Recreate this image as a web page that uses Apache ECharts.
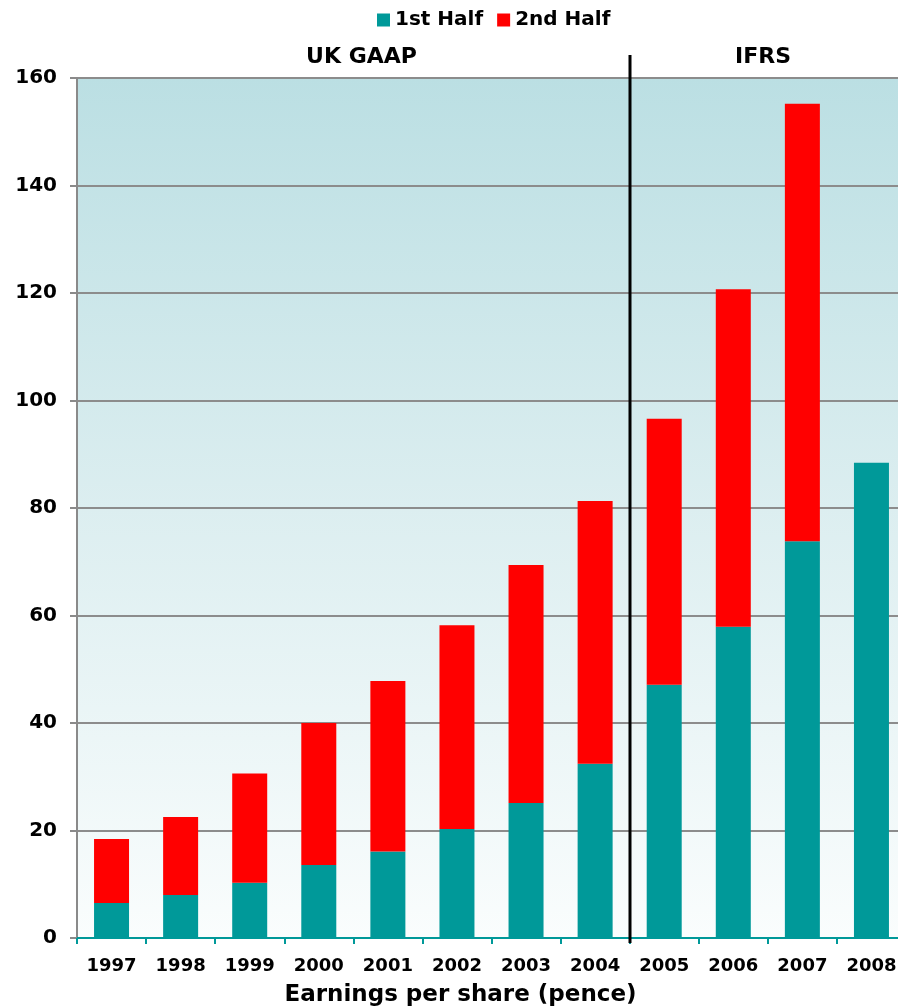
<!DOCTYPE html>
<html>
<head>
<meta charset="utf-8">
<title>Earnings per share</title>
<script src="https://cdn.jsdelivr.net/npm/echarts@6/dist/echarts.min.js"></script>
<style>
  html, body { margin: 0; padding: 0; background: #ffffff; }
  #chart { width: 898px; height: 1007px; }
</style>
</head>
<body>
<div id="chart"></div>
<script>
// Earnings per share (pence), split by half-year
const years = ['1997', '1998', '1999', '2000', '2001', '2002', '2003', '2004', '2005', '2006', '2007', '2008'];
const firstHalf  = [6.5, 8.0, 10.3, 13.6, 16.1, 20.3, 25.1, 32.4, 47.1, 57.9, 73.8, 88.4];
const secondHalf = [11.9, 14.5, 20.3, 26.4, 31.7, 37.9, 44.3, 48.9, 49.5, 62.8, 81.4, null];
const yTicks = { min: 0, max: 160, interval: 20 };
const legendNames = ['1st Half', '2nd Half'];
const regimeLabels = ['UK GAAP', 'IFRS'];

const FONT = '"DejaVu Sans", Verdana, sans-serif';
const TEAL = '#009999';
const RED = '#ff0000';

const chart = echarts.init(document.getElementById('chart'), null, { renderer: 'canvas' });

chart.setOption({
  animation: false,
  backgroundColor: '#ffffff',
  legend: {
    data: legendNames,
    left: 372,
    top: 5,
    icon: 'rect',
    itemWidth: 13,
    itemHeight: 13,
    itemGap: 14,
    textStyle: { fontFamily: FONT, fontWeight: 'bold', fontSize: 20, color: '#000' }
  },
  grid: {
    show: true,
    left: 77,
    right: -8,
    top: 78,
    bottom: 69,
    borderWidth: 0,
    outerBoundsMode: 'none',
    backgroundColor: new echarts.graphic.LinearGradient(0, 0, 0, 1, [
      { offset: 0, color: '#bbdfe3' },
      { offset: 0.5, color: '#dceef0' },
      { offset: 1, color: '#fafdfd' }
    ])
  },
  xAxis: {
    type: 'category',
    data: years,
    axisLine: { lineStyle: { color: TEAL, width: 2 } },
    axisTick: { show: true, length: 6, lineStyle: { color: TEAL, width: 2 } },
    axisLabel: { fontFamily: FONT, fontWeight: 'bold', fontSize: 18, color: '#000', margin: 19, interval: 0 },
    name: 'Earnings per share (pence)',
    nameLocation: 'middle',
    nameGap: 46,
    nameTextStyle: { fontFamily: FONT, fontWeight: 'bold', fontSize: 23, color: '#000', padding: [0, 62, 0, 0] },
    splitLine: { show: false }
  },
  yAxis: {
    type: 'value',
    min: yTicks.min,
    max: yTicks.max,
    interval: yTicks.interval,
    axisLine: { show: true, lineStyle: { color: '#8a8a8a', width: 2 } },
    axisTick: { show: true, length: 7, lineStyle: { color: '#8a8a8a', width: 2 } },
    axisLabel: { fontFamily: FONT, fontWeight: 'bold', fontSize: 20, color: '#000', margin: 20 },
    splitLine: { show: true, lineStyle: { color: '#8c8c8c', width: 2 } }
  },
  series: [
    {
      name: legendNames[0],
      type: 'bar',
      stack: 'eps',
      barWidth: 35,
      itemStyle: { color: TEAL },
      data: firstHalf
    },
    {
      name: legendNames[1],
      type: 'bar',
      stack: 'eps',
      barWidth: 35,
      itemStyle: { color: RED },
      data: secondHalf
    }
  ]
});

// Divider between the UK GAAP and IFRS years, plus the regime headings
function drawRegimes() {
  const x2004 = chart.convertToPixel({ xAxisIndex: 0 }, '2004');
  const x2005 = chart.convertToPixel({ xAxisIndex: 0 }, '2005');
  const xDiv = Math.round((x2004 + x2005) / 2);
  const yTop = chart.convertToPixel({ yAxisIndex: 0 }, yTicks.max);
  const yBase = chart.convertToPixel({ yAxisIndex: 0 }, yTicks.min);
  const xFirst = chart.convertToPixel({ xAxisIndex: 0 }, years[0]);
  const xLast = chart.convertToPixel({ xAxisIndex: 0 }, years[years.length - 1]);
  const step = x2005 - x2004;
  const ukCenter = (xFirst - step / 2 + xDiv) / 2 + 8;
  const ifrsCenter = (xDiv + xLast + step / 2) / 2 - 5;

  chart.setOption({
    graphic: [
      {
        type: 'line',
        z: 100,
        shape: { x1: xDiv, y1: yTop - 23, x2: xDiv, y2: yBase + 5 },
        style: { stroke: '#000', lineWidth: 3 }
      },
      {
        type: 'text',
        z: 100,
        x: ukCenter,
        y: yTop - 21,
        style: { text: regimeLabels[0], fontFamily: FONT, fontWeight: 'bold', fontSize: 22, fill: '#000', align: 'center', verticalAlign: 'middle' }
      },
      {
        type: 'text',
        z: 100,
        x: ifrsCenter,
        y: yTop - 21,
        style: { text: regimeLabels[1], fontFamily: FONT, fontWeight: 'bold', fontSize: 22, fill: '#000', align: 'center', verticalAlign: 'middle' }
      }
    ]
  });
}
drawRegimes();
</script>
</body>
</html>
